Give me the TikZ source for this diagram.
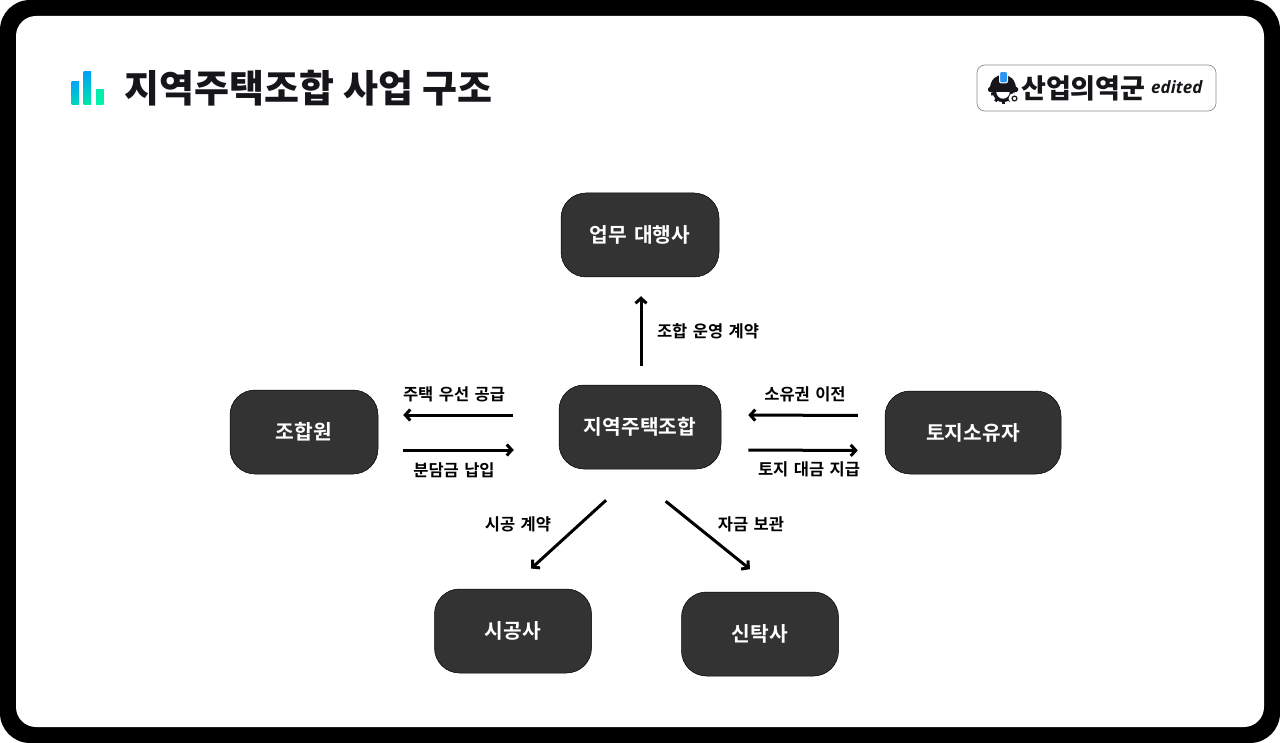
\documentclass[tikz,border=0pt]{standalone}
\usepackage{fontspec}
\usetikzlibrary{arrows.meta}
\setmainfont{Noto Sans CJK KR}[BoldFont={Noto Sans CJK KR Bold},WordSpace=1.45]
\newfontfamily\heavyfont{Noto Sans CJK KR Black}[WordSpace=1.1]
\newfontfamily\latinlogo{Open Sans}[Scale=1]
\definecolor{boxfill}{HTML}{333333}
\definecolor{iconA}{RGB}{0,165,245}
\definecolor{iconB}{RGB}{0,214,190}
\definecolor{iconC}{RGB}{0,160,245}
\definecolor{iconD}{RGB}{0,230,170}
\definecolor{iconE}{RGB}{0,235,175}
\definecolor{iconF}{RGB}{0,245,170}
\definecolor{hatblue}{RGB}{40,150,245}
\definecolor{ink}{HTML}{15151A}
\tikzset{
  box/.style={draw=black,line width=0.5pt,fill=boxfill,rounded corners=25pt,text=white,font=\bfseries\fontsize{20.3}{24}\selectfont,inner sep=0pt,anchor=center},
  arr/.style={draw=black,line width=3pt,-{Straight Barb[length=5pt,width=11pt,line width=3pt]}},
  lab/.style={font=\bfseries\fontsize{16.5}{20}\selectfont,text=black,inner sep=0pt,anchor=center},
}
\begin{document}
\begin{tikzpicture}[x=1pt,y=-1pt]
\useasboundingbox (0,0) rectangle (1280,743);
\fill[white] (0,0) rectangle (1280,743);
\fill[black,rounded corners=30pt] (0,0) rectangle (1280,743);
\fill[white,rounded corners=20pt] (16,16) rectangle (1264,727);
% title icon
\shade[bottom color=iconB,top color=iconA] (71.5,82) rectangle (79,104.5);
\shade[bottom color=iconD,top color=iconC] (83.5,72) rectangle (91,104.5);
\shade[bottom color=iconF,top color=iconE] (96,90) rectangle (103.5,104.5);
\node[font=\heavyfont\fontsize{38}{44}\selectfont,text=ink,inner sep=0pt,anchor=west] (title) at (124,88.5) {지역주택조합 사업 구조};
% badge
\draw[draw=black!45,fill=white,line width=0.7pt,rounded corners=8pt] (977,65) rectangle (1216,111);
% helmet logo: gear ring, then dome, brim and lamp
\draw[ink,line width=3.4pt] (1003,92) circle[radius=8.5];
\foreach \a in {10,50,90,130,170}
  \draw[ink,line width=3pt] ({1003+8*cos(\a)},{92+8*sin(\a)}) -- ({1003+12*cos(\a)},{92+12*sin(\a)});
\fill[white] (1014,98.5) circle[radius=5.5];
\draw[ink,line width=1.2pt,fill=white] (1014.5,98.5) circle[radius=2.4];
\fill[ink] (990,89) .. controls (990,70) and (1016,70) .. (1016,89) -- cycle;
\fill[ink,rounded corners=1.5pt] (988,87) rectangle (1018,92);
\draw[white,line width=1pt,fill=hatblue,rounded corners=2pt] (999.5,71.5) rectangle (1007.5,83);
\node[font=\heavyfont\fontsize{27}{30}\selectfont,text=ink,inner sep=0pt,anchor=west] (logo) at (1021,88) {산업의역군};
\node[font=\latinlogo\bfseries\itshape\fontsize{17}{18}\selectfont,text=ink,inner sep=0pt,anchor=west] (ed) at (1151,87.5) {edited};
% nodes
\node[box,minimum width=158pt,minimum height=84pt] (agent) at (640,235) {업무 대행사};
\node[box,minimum width=162pt,minimum height=84pt] (hq) at (640,427) {지역주택조합};
\node[box,minimum width=148pt,minimum height=84pt] (member) at (304,432) {조합원};
\node[box,minimum width=176pt,minimum height=83pt] (owner) at (973,432.5) {토지소유자};
\node[box,minimum width=157pt,minimum height=84pt] (builder) at (513,631) {시공사};
\node[box,minimum width=157pt,minimum height=84pt] (trust) at (760,634) {신탁사};
% connectors
\draw[arr,shorten <=19pt,shorten >=19pt] ([xshift=1pt]hq.north) -- ([xshift=1pt]agent.south);
\draw[arr,shorten <=46pt,shorten >=25pt] ([yshift=12pt]hq.west) -- ([yshift=17pt]member.east);
\draw[arr,shorten <=25pt,shorten >=45pt] ([yshift=-18pt]member.east) -- ([yshift=-23pt]hq.west);
\draw[arr,shorten <=27pt,shorten >=27pt] ([yshift=17pt]owner.west) -- ([yshift=12pt]hq.east);
\draw[arr,shorten <=27pt,shorten >=27pt] ([yshift=-23pt]hq.east) -- ([yshift=-18pt]owner.west);
\draw[arr,shorten <=46pt,shorten >=30pt] (hq.south) -- ([xshift=-4pt]builder.north);
\draw[arr,shorten <=51pt,shorten >=36pt] ([xshift=-14pt]hq.south) -- ([xshift=18pt]trust.north);
% labels
\node[lab] (l1) at (708,331) {조합 운영 계약};
\node[lab] (l2) at (454,394) {주택 우선 공급};
\node[lab] (l3) at (454,470) {분담금 납입};
\node[lab] (l4) at (805,394) {소유권 이전};
\node[lab] (l5) at (809,469) {토지 대금 지급};
\node[lab] (l6) at (518,524) {시공 계약};
\node[lab] (l7) at (751,524) {자금 보관};
\end{tikzpicture}
\end{document}
